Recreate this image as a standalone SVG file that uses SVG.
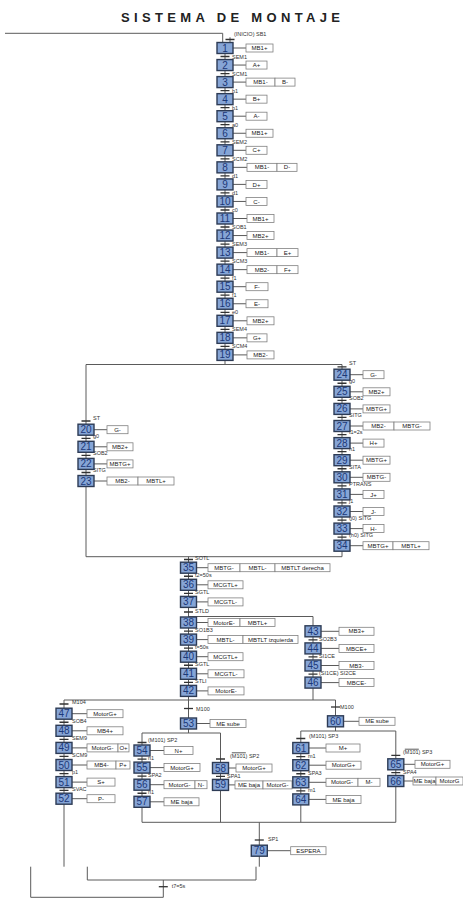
<svg xmlns="http://www.w3.org/2000/svg" width="463" height="901" viewBox="0 0 463 901">
<style>
.s{fill:#86a5d6;stroke:#2d3b55;stroke-width:1.4}
.n{font-family:"Liberation Sans",Arial,sans-serif;font-size:10px;fill:#1c3878;text-anchor:middle}
.a{fill:#fff;stroke:#808080;stroke-width:0.8}
.at{font-family:"Liberation Sans",Arial,sans-serif;font-size:6px;fill:#222;text-anchor:middle}
.l{stroke:#5a5a5a;stroke-width:1;fill:none}
.t{stroke:#333;stroke-width:1.3}
.tl{font-family:"Liberation Sans",Arial,sans-serif;font-size:5.5px;fill:#333}
.title{font-family:"Liberation Sans",Arial,sans-serif;font-size:13px;font-weight:bold;fill:#222}
</style>
<rect width="463" height="901" fill="#fff"/>
<text class="title" x="121" y="21.7" textLength="219" lengthAdjust="spacing">SISTEMA DE MONTAJE</text>
<g id="connectors">
<path class="l" d="M5 33.3H222.7V42.5M230 37.3V42.5"/>
<path class="l" d="M225 53.5V364.5M86 364.5H342M86 364.5V556.7M342 364.5V556.7M86 556.7H342"/>
<path class="l" d="M188.5 556.7V733M188.5 616.5H313V700M64 700H335.5M64 700V866.7M335.5 700V731"/>
<path class="l" d="M142 733H220.5M142 733V822.3M220.5 733V822.3M300.8 731H395.8M300.8 731V822.3M395.8 731V822.3M142 822.3H395.8M259.3 822.3V866.7"/>
<path class="l" d="M87.3 866.7V880H256V866.7M163.3 880V897.3H30.7V866.7"/>
</g>
<g id="transitions">
<path class="t" d="M220.5 56.5h9M220.5 73.6h9M220.5 90.6h9M220.5 107.7h9M220.5 124.7h9M220.5 141.8h9M220.5 158.8h9M220.5 175.9h9M220.5 192.9h9M220.5 210h9M220.5 227h9M220.5 244.1h9M220.5 261.1h9M220.5 278.2h9M220.5 295.2h9M220.5 312.3h9M220.5 329.3h9M220.5 346.4h9M225.5 39.5h9"/>
<text class="tl" x="234" y="36">(INICIO) SB1</text>
<text class="tl" x="232" y="58.5">SEM1</text>
<text class="tl" x="232" y="75.6">SCM1</text>
<text class="tl" x="232" y="92.6">b1</text>
<text class="tl" x="232" y="109.7">b1</text>
<text class="tl" x="232" y="126.7">a0</text>
<text class="tl" x="232" y="143.8">SEM2</text>
<text class="tl" x="232" y="160.8">SCM2</text>
<text class="tl" x="232" y="177.9">d1</text>
<text class="tl" x="232" y="194.9">d1</text>
<text class="tl" x="232" y="212">c0</text>
<text class="tl" x="232" y="229">SOB1</text>
<text class="tl" x="232" y="246.1">SEM3</text>
<text class="tl" x="232" y="263.1">SCM3</text>
<text class="tl" x="232" y="280.2">f1</text>
<text class="tl" x="232" y="297.2">f1</text>
<text class="tl" x="232" y="314.3">e0</text>
<text class="tl" x="232" y="331.3">SEM4</text>
<text class="tl" x="232" y="348.4">SCM4</text>
<path class="t" d="M81.5 421h9M81.5 438.3h9M81.5 455.4h9M81.5 472.5h9"/>
<text class="tl" x="93" y="420">ST</text>
<text class="tl" x="93" y="438">g0</text>
<text class="tl" x="93" y="455">SOB2</text>
<text class="tl" x="93" y="472">SITG</text>
<path class="t" d="M337.5 366.8h9M337.5 383.25h9M337.5 400.35h9M337.5 417.45h9M337.5 434.55h9M337.5 451.65h9M337.5 468.75h9M337.5 485.85h9M337.5 502.95h9M337.5 520.05h9M337.5 537.15h9"/>
<text class="tl" x="349" y="365">ST</text>
<text class="tl" x="349" y="383">g0</text>
<text class="tl" x="349" y="400">SOB2</text>
<text class="tl" x="349" y="417">SITG</text>
<text class="tl" x="349" y="434">t1=2s</text>
<text class="tl" x="349" y="451">h1</text>
<text class="tl" x="349" y="468.5">SITA</text>
<text class="tl" x="349" y="485.5">PTRANS</text>
<text class="tl" x="349" y="502.5">j1</text>
<text class="tl" x="349" y="519.5">(j0) SITG</text>
<text class="tl" x="349" y="536.5">(h0) SITG</text>
<path class="t" d="M184 559.5h9M184 576.25h9M184 593.35h9M184 612h9M184 631.05h9M184 648.15h9M184 665.25h9M184 682.35h9"/>
<text class="tl" x="195" y="560">SOTL</text>
<text class="tl" x="195" y="577">t2=50s</text>
<text class="tl" x="195" y="594">SGTL</text>
<text class="tl" x="195" y="613">STLD</text>
<text class="tl" x="195" y="632">SO1B3</text>
<text class="tl" x="195" y="649">t=50s</text>
<text class="tl" x="195" y="666">SGTL</text>
<text class="tl" x="195" y="683">STLI</text>
<path class="t" d="M308.5 639.85h9M308.5 656.95h9M308.5 674.05h9"/>
<text class="tl" x="319" y="641">SO2B3</text>
<text class="tl" x="319" y="658">SI1CE</text>
<text class="tl" x="319" y="675">(SI1CE) SI2CE</text>
<path class="t" d="M59.5 704h9M59.5 722.25h9M59.5 739.35h9M59.5 756.45h9M59.5 773.55h9M59.5 790.4h9"/>
<text class="tl" x="72" y="703.5">M104</text>
<text class="tl" x="72" y="723">SOB4</text>
<text class="tl" x="72" y="740">SEM9</text>
<text class="tl" x="72" y="757">SCM9</text>
<text class="tl" x="72" y="774">p1</text>
<text class="tl" x="72" y="791">SVAC</text>
<path class="t" d="M184 708.5h9"/>
<text class="tl" x="196" y="710.5">M100</text>
<path class="t" d="M137.5 742.5h9M137.5 759.05h9M137.5 776.15h9M137.5 793.25h9"/>
<text class="tl" x="148" y="741.5">(M101) SP2</text>
<text class="tl" x="148" y="760">n1</text>
<text class="tl" x="148" y="777">SPA2</text>
<text class="tl" x="148" y="794">n1</text>
<path class="t" d="M216 759h9M216 776.45h9"/>
<text class="tl" x="230" y="757.5">(M101) SP2</text>
<path class="l" d="M231.8 752.8h14" stroke-width="0.6"/>
<text class="tl" x="227" y="777.5">SPA1</text>
<path class="t" d="M331 707h9"/>
<text class="tl" x="340" y="708.5">M100</text>
<path class="t" d="M296.3 738.5h9M296.3 756.6h9M296.3 773.75h9M296.3 790.85h9"/>
<text class="tl" x="309" y="737.5">(M101) SP3</text>
<text class="tl" x="308" y="757.5">m1</text>
<text class="tl" x="308" y="774.5">SPA3</text>
<text class="tl" x="308" y="791.5">m1</text>
<path class="t" d="M391.3 755.3h9M391.3 772.65h9"/>
<text class="tl" x="403" y="754">(M101) SP3</text>
<path class="l" d="M404.8 749.2h14" stroke-width="0.6"/>
<text class="tl" x="403" y="773.5">SPA4</text>
<path class="t" d="M254.8 840h9"/>
<text class="tl" x="268" y="840.5">SP1</text>
<path class="t" d="M158.8 886.7h9"/>
<text class="tl" x="171.7" y="888">t7=5s</text>
</g>
<g id="s1"><path class="l" d="M233 48H246"/><rect class="s" x="217" y="42.5" width="16" height="11"/><text class="n" x="225" y="51.5">1</text><rect class="a" x="246" y="44" width="27" height="8"/><text class="at" x="259.5" y="50.1">MB1+</text></g>
<g id="s2"><path class="l" d="M233 65.05H246"/><rect class="s" x="217" y="59.55" width="16" height="11"/><text class="n" x="225" y="68.55">2</text><rect class="a" x="246" y="61.05" width="21" height="8"/><text class="at" x="256.5" y="67.15">A+</text></g>
<g id="s3"><path class="l" d="M233 82.1H246"/><rect class="s" x="217" y="76.6" width="16" height="11"/><text class="n" x="225" y="85.6">3</text><rect class="a" x="246" y="78.1" width="29" height="8"/><text class="at" x="260.5" y="84.2">MB1-</text><rect class="a" x="275" y="78.1" width="20" height="8"/><text class="at" x="285" y="84.2">B-</text></g>
<g id="s4"><path class="l" d="M233 99.15H246"/><rect class="s" x="217" y="93.65" width="16" height="11"/><text class="n" x="225" y="102.65">4</text><rect class="a" x="246" y="95.15" width="21" height="8"/><text class="at" x="256.5" y="101.25">B+</text></g>
<g id="s5"><path class="l" d="M233 116.2H246"/><rect class="s" x="217" y="110.7" width="16" height="11"/><text class="n" x="225" y="119.7">5</text><rect class="a" x="246" y="112.2" width="21" height="8"/><text class="at" x="256.5" y="118.3">A-</text></g>
<g id="s6"><path class="l" d="M233 133.25H246"/><rect class="s" x="217" y="127.75" width="16" height="11"/><text class="n" x="225" y="136.75">6</text><rect class="a" x="246" y="129.25" width="27" height="8"/><text class="at" x="259.5" y="135.35">MB1+</text></g>
<g id="s7"><path class="l" d="M233 150.3H246"/><rect class="s" x="217" y="144.8" width="16" height="11"/><text class="n" x="225" y="153.8">7</text><rect class="a" x="246" y="146.3" width="21" height="8"/><text class="at" x="256.5" y="152.4">C+</text></g>
<g id="s8"><path class="l" d="M233 167.35H247"/><rect class="s" x="217" y="161.85" width="16" height="11"/><text class="n" x="225" y="170.85">8</text><rect class="a" x="247" y="163.35" width="30" height="8"/><text class="at" x="262" y="169.45">MB1-</text><rect class="a" x="277" y="163.35" width="20" height="8"/><text class="at" x="287" y="169.45">D-</text></g>
<g id="s9"><path class="l" d="M233 184.4H246"/><rect class="s" x="217" y="178.9" width="16" height="11"/><text class="n" x="225" y="187.9">9</text><rect class="a" x="246" y="180.4" width="21" height="8"/><text class="at" x="256.5" y="186.5">D+</text></g>
<g id="s10"><path class="l" d="M233 201.45H246"/><rect class="s" x="217" y="195.95" width="16" height="11"/><text class="n" x="225" y="204.95">10</text><rect class="a" x="246" y="197.45" width="21" height="8"/><text class="at" x="256.5" y="203.55">C-</text></g>
<g id="s11"><path class="l" d="M233 218.5H247"/><rect class="s" x="217" y="213" width="16" height="11"/><text class="n" x="225" y="222">11</text><rect class="a" x="247" y="214.5" width="27" height="8"/><text class="at" x="260.5" y="220.6">MB1+</text></g>
<g id="s12"><path class="l" d="M233 235.55H247"/><rect class="s" x="217" y="230.05" width="16" height="11"/><text class="n" x="225" y="239.05">12</text><rect class="a" x="247" y="231.55" width="27" height="8"/><text class="at" x="260.5" y="237.65">MB2+</text></g>
<g id="s13"><path class="l" d="M233 252.6H247"/><rect class="s" x="217" y="247.1" width="16" height="11"/><text class="n" x="225" y="256.1">13</text><rect class="a" x="247" y="248.6" width="30" height="8"/><text class="at" x="262" y="254.7">MB1-</text><rect class="a" x="277" y="248.6" width="21" height="8"/><text class="at" x="287.5" y="254.7">E+</text></g>
<g id="s14"><path class="l" d="M233 269.65H247"/><rect class="s" x="217" y="264.15" width="16" height="11"/><text class="n" x="225" y="273.15">14</text><rect class="a" x="247" y="265.65" width="30" height="8"/><text class="at" x="262" y="271.75">MB2-</text><rect class="a" x="277" y="265.65" width="21" height="8"/><text class="at" x="287.5" y="271.75">F+</text></g>
<g id="s15"><path class="l" d="M233 286.7H246"/><rect class="s" x="217" y="281.2" width="16" height="11"/><text class="n" x="225" y="290.2">15</text><rect class="a" x="246" y="282.7" width="22" height="8"/><text class="at" x="257" y="288.8">F-</text></g>
<g id="s16"><path class="l" d="M233 303.75H246"/><rect class="s" x="217" y="298.25" width="16" height="11"/><text class="n" x="225" y="307.25">16</text><rect class="a" x="246" y="299.75" width="22" height="8"/><text class="at" x="257" y="305.85">E-</text></g>
<g id="s17"><path class="l" d="M233 320.8H247"/><rect class="s" x="217" y="315.3" width="16" height="11"/><text class="n" x="225" y="324.3">17</text><rect class="a" x="247" y="316.8" width="27" height="8"/><text class="at" x="260.5" y="322.9">MB2+</text></g>
<g id="s18"><path class="l" d="M233 337.85H247"/><rect class="s" x="217" y="332.35" width="16" height="11"/><text class="n" x="225" y="341.35">18</text><rect class="a" x="247" y="333.85" width="20" height="8"/><text class="at" x="257" y="339.95">G+</text></g>
<g id="s19"><path class="l" d="M233 354.9H247"/><rect class="s" x="217" y="349.4" width="16" height="11"/><text class="n" x="225" y="358.4">19</text><rect class="a" x="247" y="350.9" width="27" height="8"/><text class="at" x="260.5" y="357">MB2-</text></g>
<g id="s20"><path class="l" d="M94 429.7H107"/><rect class="s" x="78" y="424.2" width="16" height="11"/><text class="n" x="86" y="433.2">20</text><rect class="a" x="107" y="425.7" width="21" height="8"/><text class="at" x="117.5" y="431.8">G-</text></g>
<g id="s21"><path class="l" d="M94 446.8H107"/><rect class="s" x="78" y="441.3" width="16" height="11"/><text class="n" x="86" y="450.3">21</text><rect class="a" x="107" y="442.8" width="26" height="8"/><text class="at" x="120" y="448.9">MB2+</text></g>
<g id="s22"><path class="l" d="M94 463.9H107"/><rect class="s" x="78" y="458.4" width="16" height="11"/><text class="n" x="86" y="467.4">22</text><rect class="a" x="107" y="459.9" width="26" height="8"/><text class="at" x="120" y="466">MBTG+</text></g>
<g id="s23"><path class="l" d="M94 481H107"/><rect class="s" x="78" y="475.5" width="16" height="11"/><text class="n" x="86" y="484.5">23</text><rect class="a" x="107" y="477" width="31" height="8"/><text class="at" x="122.5" y="483.1">MB2-</text><rect class="a" x="138" y="477" width="36" height="8"/><text class="at" x="156" y="483.1">MBTL+</text></g>
<g id="s24"><path class="l" d="M350 374.7H363"/><rect class="s" x="334" y="369.2" width="16" height="11"/><text class="n" x="342" y="378.2">24</text><rect class="a" x="363" y="370.7" width="21" height="8"/><text class="at" x="373.5" y="376.8">G-</text></g>
<g id="s25"><path class="l" d="M350 391.8H363"/><rect class="s" x="334" y="386.3" width="16" height="11"/><text class="n" x="342" y="395.3">25</text><rect class="a" x="363" y="387.8" width="27" height="8"/><text class="at" x="376.5" y="393.9">MB2+</text></g>
<g id="s26"><path class="l" d="M350 408.9H363"/><rect class="s" x="334" y="403.4" width="16" height="11"/><text class="n" x="342" y="412.4">26</text><rect class="a" x="363" y="404.9" width="27" height="8"/><text class="at" x="376.5" y="411">MBTG+</text></g>
<g id="s27"><path class="l" d="M350 426H363"/><rect class="s" x="334" y="420.5" width="16" height="11"/><text class="n" x="342" y="429.5">27</text><rect class="a" x="363" y="422" width="31" height="8"/><text class="at" x="378.5" y="428.1">MB2-</text><rect class="a" x="394" y="422" width="36" height="8"/><text class="at" x="412" y="428.1">MBTG-</text></g>
<g id="s28"><path class="l" d="M350 443.1H363"/><rect class="s" x="334" y="437.6" width="16" height="11"/><text class="n" x="342" y="446.6">28</text><rect class="a" x="363" y="439.1" width="21" height="8"/><text class="at" x="373.5" y="445.2">H+</text></g>
<g id="s29"><path class="l" d="M350 460.2H363"/><rect class="s" x="334" y="454.7" width="16" height="11"/><text class="n" x="342" y="463.7">29</text><rect class="a" x="363" y="456.2" width="27" height="8"/><text class="at" x="376.5" y="462.3">MBTG+</text></g>
<g id="s30"><path class="l" d="M350 477.3H363"/><rect class="s" x="334" y="471.8" width="16" height="11"/><text class="n" x="342" y="480.8">30</text><rect class="a" x="363" y="473.3" width="27" height="8"/><text class="at" x="376.5" y="479.4">MBTG-</text></g>
<g id="s31"><path class="l" d="M350 494.4H363"/><rect class="s" x="334" y="488.9" width="16" height="11"/><text class="n" x="342" y="497.9">31</text><rect class="a" x="363" y="490.4" width="21" height="8"/><text class="at" x="373.5" y="496.5">J+</text></g>
<g id="s32"><path class="l" d="M350 511.5H363"/><rect class="s" x="334" y="506" width="16" height="11"/><text class="n" x="342" y="515">32</text><rect class="a" x="363" y="507.5" width="21" height="8"/><text class="at" x="373.5" y="513.6">J-</text></g>
<g id="s33"><path class="l" d="M350 528.6H363"/><rect class="s" x="334" y="523.1" width="16" height="11"/><text class="n" x="342" y="532.1">33</text><rect class="a" x="363" y="524.6" width="21" height="8"/><text class="at" x="373.5" y="530.7">H-</text></g>
<g id="s34"><path class="l" d="M350 545.7H363"/><rect class="s" x="334" y="540.2" width="16" height="11"/><text class="n" x="342" y="549.2">34</text><rect class="a" x="363" y="541.7" width="30" height="8"/><text class="at" x="378" y="547.8">MBTG+</text><rect class="a" x="393" y="541.7" width="36" height="8"/><text class="at" x="411" y="547.8">MBTL+</text></g>
<g id="s35"><path class="l" d="M196.5 567.7H208"/><rect class="s" x="180.5" y="562.2" width="16" height="11"/><text class="n" x="188.5" y="571.2">35</text><rect class="a" x="208" y="563.7" width="32" height="8"/><text class="at" x="224" y="569.8">MBTG-</text><rect class="a" x="240" y="563.7" width="35" height="8"/><text class="at" x="257.5" y="569.8">MBTL-</text><rect class="a" x="275" y="563.7" width="55" height="8"/><text class="at" x="302.5" y="569.8">MBTLT derecha</text></g>
<g id="s36"><path class="l" d="M196.5 584.8H208"/><rect class="s" x="180.5" y="579.3" width="16" height="11"/><text class="n" x="188.5" y="588.3">36</text><rect class="a" x="208" y="580.8" width="35" height="8"/><text class="at" x="225.5" y="586.9">MCGTL+</text></g>
<g id="s37"><path class="l" d="M196.5 601.9H208"/><rect class="s" x="180.5" y="596.4" width="16" height="11"/><text class="n" x="188.5" y="605.4">37</text><rect class="a" x="208" y="597.9" width="35" height="8"/><text class="at" x="225.5" y="604">MCGTL-</text></g>
<g id="s38"><path class="l" d="M196.5 622.5H208"/><rect class="s" x="180.5" y="617" width="16" height="11"/><text class="n" x="188.5" y="626">38</text><rect class="a" x="208" y="618.5" width="32" height="8"/><text class="at" x="224" y="624.6">MotorE-</text><rect class="a" x="240" y="618.5" width="35" height="8"/><text class="at" x="257.5" y="624.6">MBTL+</text></g>
<g id="s39"><path class="l" d="M196.5 639.6H208"/><rect class="s" x="180.5" y="634.1" width="16" height="11"/><text class="n" x="188.5" y="643.1">39</text><rect class="a" x="208" y="635.6" width="35" height="8"/><text class="at" x="225.5" y="641.7">MBTL-</text><rect class="a" x="243" y="635.6" width="55" height="8"/><text class="at" x="270.5" y="641.7">MBTLT izquierda</text></g>
<g id="s40"><path class="l" d="M196.5 656.7H208"/><rect class="s" x="180.5" y="651.2" width="16" height="11"/><text class="n" x="188.5" y="660.2">40</text><rect class="a" x="208" y="652.7" width="35" height="8"/><text class="at" x="225.5" y="658.8">MCGTL+</text></g>
<g id="s41"><path class="l" d="M196.5 673.8H208"/><rect class="s" x="180.5" y="668.3" width="16" height="11"/><text class="n" x="188.5" y="677.3">41</text><rect class="a" x="208" y="669.8" width="36" height="8"/><text class="at" x="226" y="675.9">MCGTL-</text></g>
<g id="s42"><path class="l" d="M196.5 690.9H208"/><rect class="s" x="180.5" y="685.4" width="16" height="11"/><text class="n" x="188.5" y="694.4">42</text><rect class="a" x="208" y="686.9" width="36" height="8"/><text class="at" x="226" y="693">MotorE-</text></g>
<g id="s43"><path class="l" d="M321 631.3H339"/><rect class="s" x="305" y="625.8" width="16" height="11"/><text class="n" x="313" y="634.8">43</text><rect class="a" x="339" y="627.3" width="35" height="8"/><text class="at" x="356.5" y="633.4">MB3+</text></g>
<g id="s44"><path class="l" d="M321 648.4H339"/><rect class="s" x="305" y="642.9" width="16" height="11"/><text class="n" x="313" y="651.9">44</text><rect class="a" x="339" y="644.4" width="35" height="8"/><text class="at" x="356.5" y="650.5">MBCE+</text></g>
<g id="s45"><path class="l" d="M321 665.5H339"/><rect class="s" x="305" y="660" width="16" height="11"/><text class="n" x="313" y="669">45</text><rect class="a" x="339" y="661.5" width="35" height="8"/><text class="at" x="356.5" y="667.6">MB3-</text></g>
<g id="s46"><path class="l" d="M321 682.6H339"/><rect class="s" x="305" y="677.1" width="16" height="11"/><text class="n" x="313" y="686.1">46</text><rect class="a" x="339" y="678.6" width="35" height="8"/><text class="at" x="356.5" y="684.7">MBCE-</text></g>
<g id="s47"><path class="l" d="M72 713.7H87"/><rect class="s" x="56" y="708.2" width="16" height="11"/><text class="n" x="64" y="717.2">47</text><rect class="a" x="87" y="709.7" width="36" height="8"/><text class="at" x="105" y="715.8">MotorG+</text></g>
<g id="s48"><path class="l" d="M72 730.8H87"/><rect class="s" x="56" y="725.3" width="16" height="11"/><text class="n" x="64" y="734.3">48</text><rect class="a" x="87" y="726.8" width="36" height="8"/><text class="at" x="105" y="732.9">MB4+</text></g>
<g id="s49"><path class="l" d="M72 747.9H87"/><rect class="s" x="56" y="742.4" width="16" height="11"/><text class="n" x="64" y="751.4">49</text><rect class="a" x="87" y="743.9" width="31" height="8"/><text class="at" x="102.5" y="750">MotorG-</text><rect class="a" x="118" y="743.9" width="11" height="8"/><text class="at" x="123.5" y="750">O+</text></g>
<g id="s50"><path class="l" d="M72 765H87"/><rect class="s" x="56" y="759.5" width="16" height="11"/><text class="n" x="64" y="768.5">50</text><rect class="a" x="87" y="761" width="29" height="8"/><text class="at" x="101.5" y="767.1">MB4-</text><rect class="a" x="116" y="761" width="14" height="8"/><text class="at" x="123" y="767.1">P+</text></g>
<g id="s51"><path class="l" d="M72 782.1H87"/><rect class="s" x="56" y="776.6" width="16" height="11"/><text class="n" x="64" y="785.6">51</text><rect class="a" x="87" y="778.1" width="28" height="8"/><text class="at" x="101" y="784.2">S+</text></g>
<g id="s52"><path class="l" d="M72 798.7H87"/><rect class="s" x="56" y="793.2" width="16" height="11"/><text class="n" x="64" y="802.2">52</text><rect class="a" x="87" y="794.7" width="28" height="8"/><text class="at" x="101" y="800.8">P-</text></g>
<g id="s53"><path class="l" d="M196.5 723.5H210"/><rect class="s" x="180.5" y="718" width="16" height="11"/><text class="n" x="188.5" y="727">53</text><rect class="a" x="210" y="719.5" width="36" height="8"/><text class="at" x="228" y="725.6">ME sube</text></g>
<g id="s54"><path class="l" d="M150 750.5H164"/><rect class="s" x="134" y="745" width="16" height="11"/><text class="n" x="142" y="754">54</text><rect class="a" x="164" y="746.5" width="29" height="8"/><text class="at" x="178.5" y="752.6">N+</text></g>
<g id="s55"><path class="l" d="M150 767.6H164"/><rect class="s" x="134" y="762.1" width="16" height="11"/><text class="n" x="142" y="771.1">55</text><rect class="a" x="164" y="763.6" width="36" height="8"/><text class="at" x="182" y="769.7">MotorG+</text></g>
<g id="s56"><path class="l" d="M150 784.7H164"/><rect class="s" x="134" y="779.2" width="16" height="11"/><text class="n" x="142" y="788.2">56</text><rect class="a" x="164" y="780.7" width="31" height="8"/><text class="at" x="179.5" y="786.8">MotorG-</text><rect class="a" x="195" y="780.7" width="12" height="8"/><text class="at" x="201" y="786.8">N-</text></g>
<g id="s57"><path class="l" d="M150 801.8H164"/><rect class="s" x="134" y="796.3" width="16" height="11"/><text class="n" x="142" y="805.3">57</text><rect class="a" x="164" y="797.8" width="35" height="8"/><text class="at" x="181.5" y="803.9">ME baja</text></g>
<g id="s58"><path class="l" d="M228.5 768H236"/><rect class="s" x="212.5" y="762.5" width="16" height="11"/><text class="n" x="220.5" y="771.5">58</text><rect class="a" x="236" y="764" width="36" height="8"/><text class="at" x="254" y="770.1">MotorG+</text></g>
<g id="s59"><path class="l" d="M228.5 784.9H235"/><rect class="s" x="212.5" y="779.4" width="16" height="11"/><text class="n" x="220.5" y="788.4">59</text><rect class="a" x="235" y="780.9" width="28" height="8"/><text class="at" x="249" y="787">ME baja</text><rect class="a" x="263" y="780.9" width="29" height="8"/><text class="at" x="277.5" y="787">MotorG-</text></g>
<g id="s60"><path class="l" d="M343.5 721.3H359"/><rect class="s" x="327.5" y="715.8" width="16" height="11"/><text class="n" x="335.5" y="724.8">60</text><rect class="a" x="359" y="717.3" width="36" height="8"/><text class="at" x="377" y="723.4">ME sube</text></g>
<g id="s61"><path class="l" d="M308.8 748H326"/><rect class="s" x="292.8" y="742.5" width="16" height="11"/><text class="n" x="300.8" y="751.5">61</text><rect class="a" x="326" y="744" width="34" height="8"/><text class="at" x="343" y="750.1">M+</text></g>
<g id="s62"><path class="l" d="M308.8 765.2H326"/><rect class="s" x="292.8" y="759.7" width="16" height="11"/><text class="n" x="300.8" y="768.7">62</text><rect class="a" x="326" y="761.2" width="35" height="8"/><text class="at" x="343.5" y="767.3">MotorG+</text></g>
<g id="s63"><path class="l" d="M308.8 782.3H326"/><rect class="s" x="292.8" y="776.8" width="16" height="11"/><text class="n" x="300.8" y="785.8">63</text><rect class="a" x="326" y="778.3" width="32" height="8"/><text class="at" x="342" y="784.4">MotorG-</text><rect class="a" x="358" y="778.3" width="22" height="8"/><text class="at" x="369" y="784.4">M-</text></g>
<g id="s64"><path class="l" d="M308.8 799.4H326"/><rect class="s" x="292.8" y="793.9" width="16" height="11"/><text class="n" x="300.8" y="802.9">64</text><rect class="a" x="326" y="795.4" width="35" height="8"/><text class="at" x="343.5" y="801.5">ME baja</text></g>
<g id="s65"><path class="l" d="M403.8 764.3H415"/><rect class="s" x="387.8" y="758.8" width="16" height="11"/><text class="n" x="395.8" y="767.8">65</text><rect class="a" x="415" y="760.3" width="35" height="8"/><text class="at" x="432.5" y="766.4">MotorG+</text></g>
<g id="s66"><path class="l" d="M403.8 781H413"/><rect class="s" x="387.8" y="775.5" width="16" height="11"/><text class="n" x="395.8" y="784.5">66</text><rect class="a" x="413" y="777" width="23" height="8"/><text class="at" x="424.5" y="783.1">ME baja</text><rect class="a" x="436" y="777" width="27" height="8"/><text class="at" x="449.5" y="783.1">MotorG</text></g>
<g id="s79"><path class="l" d="M267.3 850.7H290.7"/><rect class="s" x="251.3" y="845.2" width="16" height="11"/><text class="n" x="259.3" y="854.2">79</text><rect class="a" x="290.7" y="846.7" width="35.3" height="8"/><text class="at" x="308.3" y="852.8">ESPERA</text></g>
</svg>
